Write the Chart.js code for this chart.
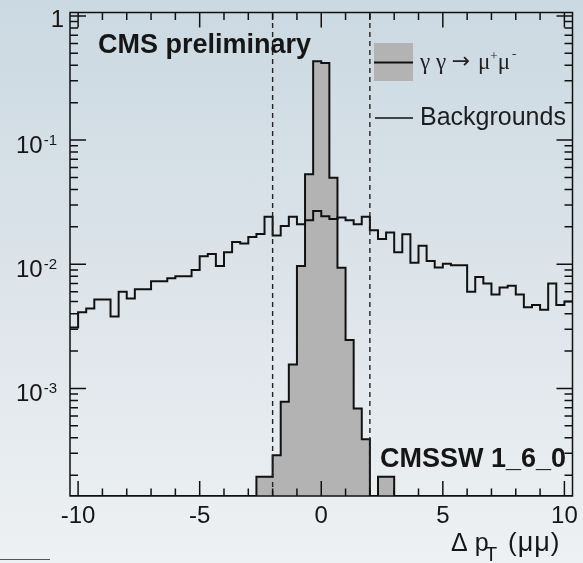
<!DOCTYPE html>
<html>
<head>
<meta charset="utf-8">
<title>Delta pT of the muon pair</title>
<script src="https://cdn.jsdelivr.net/npm/chart.js@4.4.0/dist/chart.umd.min.js"></script>
<style>
  html, body { margin: 0; padding: 0; }
  body {
    width: 583px;
    height: 563px;
    overflow: hidden;
    background: linear-gradient(to bottom, #cbd9e2 0%, #dbe3e9 45%, #eef1f3 100%);
  }
  canvas { display: block; }
</style>
</head>
<body>
<canvas id="dptChart" width="583" height="563"></canvas>
<script>
'use strict';

// binning of both histograms: 62 bins of 1/3 in delta pT
let binLow = -31 / 3;
let binWidth = 1 / 3;
let nBins = 62;

// log axis range
let yMin = 1.36e-4;
let yMax = 1.065;

let xTickValues = [-10, -5, 0, 5, 10];
let xTickLabels = ['-10', '-5', '0', '5', '10'];
let yTickValues = [1, 0.1, 0.01, 0.001];
let yTickExponents = ['', '-1', '-2', '-3'];

// selection window drawn as dashed lines
let cutValues = [-2, 2];

// normalised backgrounds, one entry per bin
let bkgValues = [
  3.1e-3, 4.1e-3, 4.4e-3, 5.2e-3, 5.2e-3, 3.8e-3, 6.0e-3, 5.3e-3, 6.3e-3, 6.3e-3,
  7.3e-3, 7.3e-3, 7.7e-3, 8.0e-3, 8.0e-3, 9.0e-3, 1.16e-2, 1.21e-2, 9.7e-3, 1.25e-2,
  1.51e-2, 1.47e-2, 1.66e-2, 1.75e-2, 2.41e-2, 1.70e-2, 2.03e-2, 2.41e-2, 2.10e-2, 2.26e-2,
  2.68e-2, 2.44e-2, 2.31e-2, 2.38e-2, 2.26e-2, 2.10e-2, 2.41e-2, 1.88e-2, 1.60e-2, 1.80e-2,
  1.25e-2, 1.74e-2, 1.03e-2, 1.41e-2, 1.06e-2, 9.4e-3, 1.01e-2, 9.8e-3, 9.8e-3, 6.0e-3,
  7.9e-3, 7.0e-3, 5.7e-3, 6.5e-3, 6.7e-3, 5.7e-3, 4.5e-3, 4.7e-3, 4.3e-3, 7.0e-3,
  4.7e-3, 5.0e-3
];

// normalised gamma gamma -> mu mu signal, one entry per bin
let sigValues = [
  0, 0, 0, 0, 0, 0, 0, 0, 0, 0,
  0, 0, 0, 0, 0, 0, 0, 0, 0, 0,
  0, 0, 0, 1.94e-4, 1.94e-4, 2.9e-4, 7.8e-4, 1.56e-3, 9.7e-3, 5.3e-2,
  0.432, 0.418, 4.97e-2, 9.35e-3, 2.45e-3, 6.9e-4, 3.9e-4, 0, 1.94e-4, 1.94e-4,
  0, 0, 0, 0, 0, 0, 0, 0, 0, 0,
  0, 0, 0, 0, 0, 0, 0, 0, 0, 0,
  0, 0
];

let sansFont = '"Liberation Sans", Arial, Helvetica, sans-serif';
let serifFont = '"Liberation Serif", "Times New Roman", serif';
let arrowFont = '"DejaVu Sans", sans-serif';

// turn per-bin contents into step points on the bin edges;
// empty bins sit on the bottom of the frame like in a ROOT log plot
function histPoints(values){
  let pts = [];
  for (let i = 0; i < nBins; i++){
    pts.push({x: binLow + i * binWidth, y: Math.max(values[i], yMin)});
  }
  pts.push({x: binLow + nBins * binWidth, y: Math.max(values[nBins - 1], yMin)});
  return pts;
}

function cutLine(x){
  return [{x: x, y: yMin}, {x: x, y: yMax}];
}

// write a run of text pieces left to right, [text, font, dy, extra gap]
function drawPieces(ctx, x, y, pieces){
  for (let p of pieces){
    ctx.font = p[1];
    ctx.fillText(p[0], x, y + p[2]);
    x += ctx.measureText(p[0]).width + (p[3] || 0);
  }
}

// frame, inward ticks, labels and legend in ROOT style
let rootStyle = {
  id: 'rootStyle',
  afterDatasetsDraw(chart){
    let ctx = chart.ctx;
    let a = chart.chartArea;
    let xs = chart.scales.x;
    let ys = chart.scales.y;
    ctx.save();

    ctx.strokeStyle = '#111';
    ctx.lineWidth = 1.5;
    ctx.beginPath();
    for (let v = -10; v <= 10; v++){
      let px = xs.getPixelForValue(v);
      let len = (v % 5 === 0) ? 15 : 7.5;
      ctx.moveTo(px, a.bottom); ctx.lineTo(px, a.bottom - len);
      ctx.moveTo(px, a.top); ctx.lineTo(px, a.top + len);
    }
    for (let d = -4; d <= 0; d++){
      for (let m = 1; m <= 9; m++){
        let v = m * Math.pow(10, d);
        if (v < yMin || v > yMax) continue;
        let py = ys.getPixelForValue(v);
        let len = (m === 1) ? 16 : 8;
        ctx.moveTo(a.left, py); ctx.lineTo(a.left + len, py);
        ctx.moveTo(a.right, py); ctx.lineTo(a.right - len, py);
      }
    }
    ctx.stroke();
    ctx.strokeRect(a.left, a.top, a.right - a.left, a.bottom - a.top);

    ctx.fillStyle = '#161616';

    // x tick labels
    ctx.font = '24px ' + sansFont;
    ctx.textAlign = 'center';
    ctx.textBaseline = 'alphabetic';
    for (let i = 0; i < xTickValues.length; i++){
      ctx.fillText(xTickLabels[i], xs.getPixelForValue(xTickValues[i]), 523);
    }

    // y tick labels: 1, 10^-1, 10^-2, 10^-3
    for (let i = 0; i < yTickValues.length; i++){
      let py = ys.getPixelForValue(yTickValues[i]);
      if (yTickExponents[i] === ''){
        ctx.font = '24px ' + sansFont;
        ctx.textAlign = 'right';
        ctx.fillText('1', 64, py + 11);
      } else {
        ctx.font = '24px ' + sansFont;
        ctx.textAlign = 'left';
        ctx.fillText('10', 16, py + 12.5);
        let w = ctx.measureText('10').width;
        ctx.font = '15px ' + sansFont;
        ctx.fillText(yTickExponents[i], 16 + w + 1, py + 4.5);
      }
    }

    // axis title: Delta p_T(mu mu)
    ctx.textAlign = 'left';
    ctx.font = '25px ' + sansFont;
    ctx.fillText('\u0394 p', 451, 551);
    ctx.font = '20px ' + sansFont;
    ctx.textAlign = 'center';
    ctx.fillText('T', 491, 561);
    ctx.textAlign = 'left';
    drawPieces(ctx, 508, 551, [
      ['(', '26px ' + sansFont, 0, 1],
      ['\u03bc', '27px ' + sansFont, 0, 1],
      ['\u03bc', '27px ' + sansFont, 0, 1],
      [')', '26px ' + sansFont, 0]
    ]);

    // labels inside the frame
    ctx.font = 'bold 27px ' + sansFont;
    ctx.fillText('CMS preliminary', 98, 53);
    ctx.fillText('CMSSW 1_6_0', 380, 467);

    // legend
    ctx.fillStyle = '#b3b3b3';
    ctx.fillRect(374, 43, 39, 38);
    ctx.strokeStyle = '#111';
    ctx.lineWidth = 2;
    ctx.beginPath();
    ctx.moveTo(374, 62.5); ctx.lineTo(413, 62.5);
    ctx.stroke();
    ctx.lineWidth = 1.5;
    ctx.beginPath();
    ctx.moveTo(375, 118); ctx.lineTo(413, 118);
    ctx.stroke();

    ctx.fillStyle = '#222';
    drawPieces(ctx, 420, 69, [
      ['\u03b3 \u03b3 ', '23px ' + serifFont, 0],
      ['\u2192', '22px ' + arrowFont, -1, 2],
      [' \u03bc', '23px ' + serifFont, 0],
      ['+', '13px ' + serifFont, -9],
      ['\u03bc', '23px ' + serifFont, 0, 2],
      ['-', '13px ' + serifFont, -11]
    ]);

    ctx.font = '25px ' + sansFont;
    ctx.fillStyle = '#1e1e1e';
    ctx.fillText('Backgrounds', 420, 125);

    // short rule at the lower left of the page
    ctx.strokeStyle = '#555';
    ctx.lineWidth = 1;
    ctx.beginPath();
    ctx.moveTo(0, 559.5); ctx.lineTo(50, 559.5);
    ctx.stroke();

    ctx.restore();
  }
};

let ctx = document.getElementById('dptChart').getContext('2d');
new Chart(ctx, {
  type: 'line',
  data: {
    datasets: [{
      label: 'Backgrounds',
      data: histPoints(bkgValues),
      stepped: 'before',
      borderColor: '#111',
      borderWidth: 2,
      fill: false,
      pointRadius: 0,
      order: 1
    }, {
      label: '\u03b3\u03b3 \u2192 \u03bc\u207a\u03bc\u207b',
      data: histPoints(sigValues),
      stepped: 'before',
      borderColor: '#111',
      borderWidth: 2,
      backgroundColor: '#b3b3b3',
      fill: 'start',
      pointRadius: 0,
      order: 2
    }, {
      label: 'cut low',
      data: cutLine(cutValues[0]),
      borderColor: '#222',
      borderWidth: 1.4,
      borderDash: [5, 4],
      fill: false,
      pointRadius: 0,
      order: 0
    }, {
      label: 'cut high',
      data: cutLine(cutValues[1]),
      borderColor: '#222',
      borderWidth: 1.4,
      borderDash: [5, 4],
      fill: false,
      pointRadius: 0,
      order: 0
    }]
  },
  options: {
    responsive: false,
    animation: false,
    devicePixelRatio: 1,
    parsing: false,
    layout: {
      padding: {left: 70, right: 10.5, top: 12.5, bottom: 67}
    },
    scales: {
      x: {
        type: 'linear',
        min: binLow,
        max: binLow + nBins * binWidth,
        display: false
      },
      y: {
        type: 'logarithmic',
        min: yMin,
        max: yMax,
        display: false
      }
    },
    plugins: {
      legend: {display: false},
      tooltip: {enabled: false}
    }
  },
  plugins: [rootStyle]
});
</script>
</body>
</html>
